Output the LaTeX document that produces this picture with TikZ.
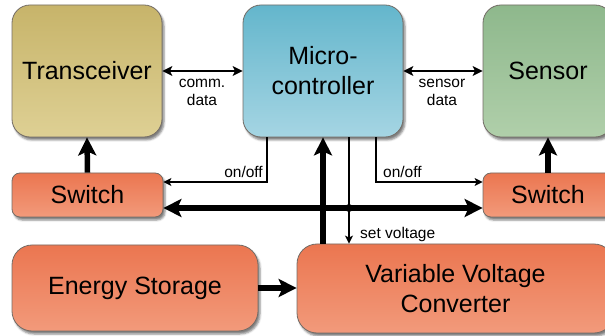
\documentclass[tikz,border=0pt]{standalone}
\usepackage{fontspec}
\setmainfont{Liberation Sans}
\usetikzlibrary{arrows.meta,shadows.blur,calc}

\definecolor{tanTop}{RGB}{199,180,106}
\definecolor{tanBot}{RGB}{222,208,148}
\definecolor{blueTop}{RGB}{100,182,204}
\definecolor{blueBot}{RGB}{165,213,227}
\definecolor{greenTop}{RGB}{142,184,140}
\definecolor{greenBot}{RGB}{176,207,170}
\definecolor{orTop}{RGB}{235,118,80}
\definecolor{orBot}{RGB}{242,154,123}
\definecolor{edge}{RGB}{115,108,102}

\tikzset{
  block/.style={draw=edge, line width=0.8pt, rounded corners=18pt,
    blur shadow={shadow xshift=2pt, shadow yshift=-3pt,
                 shadow blur radius=2pt, shadow opacity=50},
    font=\fontsize{25pt}{30pt}\selectfont, align=center, inner sep=0pt},
  tanbox/.style={block, top color=tanTop, bottom color=tanBot},
  bluebox/.style={block, top color=blueTop, bottom color=blueBot},
  greenbox/.style={block, top color=greenTop, bottom color=greenBot},
  orbox/.style={block, top color=orTop, bottom color=orBot},
  lbl/.style={font=\fontsize{15.5pt}{18pt}\selectfont, inner sep=0pt},
  thin/.style={line width=1.2pt},
  datalink/.style={thin, {Stealth[length=10pt,width=10pt,inset=2.5pt]}-{Stealth[length=10pt,width=10pt,inset=2.5pt]}},
  ctrl/.style={thin, -{Stealth[length=8pt,width=8pt,inset=2pt]}},
  power/.style={line width=5.5pt, -{Stealth[length=18pt,width=18pt,inset=4pt]}},
  powerboth/.style={line width=5.5pt, {Stealth[length=18pt,width=18pt,inset=4pt]}-{Stealth[length=18pt,width=18pt,inset=4pt]}},
}

\begin{document}
\begin{tikzpicture}[x=1pt, y=-1pt]
\useasboundingbox (0,0) rectangle (605,336);

% upper row
\node[tanbox, minimum width=150pt, minimum height=132pt] (trans) at (87,71) {Transceiver};
\node[bluebox, minimum width=160pt, minimum height=132pt] (micro) at (323,71) {Micro-\\controller};
\node[greenbox, minimum width=130pt, minimum height=132pt] (sensor) at (548,71) {Sensor};

% switches
\node[orbox, rounded corners=8pt, minimum width=151pt, minimum height=44pt] (swL) at (87.5,195) {Switch};
\node[orbox, rounded corners=8pt, minimum width=130pt, minimum height=44pt] (swR) at (548,195) {Switch};

% power section
\node[orbox, rounded corners=20pt, minimum width=246pt, minimum height=86pt] (energy) at (135,288) {Energy Storage};
\node[orbox, rounded corners=20pt, minimum width=317pt, minimum height=89pt] (conv) at (455.5,288.5) {Variable Voltage\\Converter};

% data links
\draw[datalink] (trans.east) -- (micro.west);
\draw[datalink] (micro.east) -- (sensor.west);
\node[lbl, anchor=base] (commA) at (202,88) {comm.};
\node[lbl, anchor=base] (commB) at (202,106) {data};
\node[lbl, anchor=base] (sensA) at (442,88) {sensor};
\node[lbl, anchor=base] (sensB) at (442,106) {data};

% switch control
\coordinate (offL) at ([xshift=-56pt]micro.south);
\coordinate (offR) at ([xshift=53pt]micro.south);
\draw[ctrl] (offL) |- ([yshift=13pt]swL.east);
\draw[ctrl] (offR) |- ([yshift=13pt]swR.west);
\node[lbl, anchor=base east] (onoffL) at (263,178) {on/off};
\node[lbl, anchor=base west] (onoffR) at (383,178) {on/off};

% supply bus to switches
\draw[powerboth] ([yshift=-13pt]swL.east) -- ([yshift=-13pt]swR.west);
\draw[power] (swL.north) -- (trans.south);
\draw[power] (swR.north) -- (sensor.south);
\draw[power] (micro.south |- conv.north) -- (micro.south);
\draw[power] (energy.east) -- (energy.east -| conv.west);

% voltage setpoint
\coordinate (setv) at ([xshift=26pt]micro.south);
\draw[ctrl] (setv) -- (setv |- conv.north);
\fill (setv |- swL.east) ++(0,13) circle (4pt);
\node[lbl, anchor=base west] (setvl) at (360,239) {set voltage};
\end{tikzpicture}
\end{document}
